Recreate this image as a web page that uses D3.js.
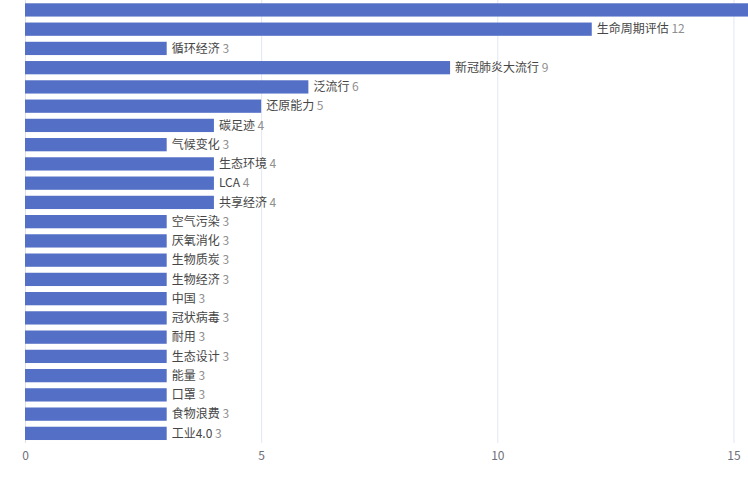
<!DOCTYPE html>
<html>
<head>
<meta charset="utf-8">
<script src="https://cdn.jsdelivr.net/npm/d3@7"></script>
<style>
  body { margin: 0; background: #fff; }
  svg { display: block; }
</style>
</head>
<body>
<div id="chart"></div>
<script>
// categories top to bottom, first one runs past the right edge
const categories = ["可持续发展", "生命周期评估", "循环经济", "新冠肺炎大流行", "泛流行", "还原能力", "碳足迹",
  "气候变化", "生态环境", "LCA", "共享经济", "空气污染", "厌氧消化", "生物质炭", "生物经济",
  "中国", "冠状病毒", "耐用", "生态设计", "能量", "口罩", "食物浪费", "工业4.0"];
const values = [20, 12, 3, 9, 6, 5, 4, 3, 4, 4, 4, 3, 3, 3, 3, 3, 3, 3, 3, 3, 3, 3, 3];
const xTicks = [0, 5, 10, 15];

const width = 748, height = 477;
const left = 25, unit = 47.23;

const svg = d3.select("#chart").append("svg")
  .attr("width", width)
  .attr("height", height);

const x = d3.scaleLinear().domain([0, 20]).range([left, left + 20 * unit]);
const y = d3.scaleBand().domain(categories).range([0.3, 443]).paddingInner(0.31).paddingOuter(0.155);

// grid lines
svg.append("g")
  .selectAll("line")
  .data(xTicks.filter(t => t > 0))
  .join("line")
  .attr("x1", d => x(d) + 0.5).attr("x2", d => x(d) + 0.5)
  .attr("y1", 0).attr("y2", 443)
  .style("stroke", "#e0e6f1")
  .style("stroke-width", 1);

// category axis line
svg.append("line")
  .attr("x1", left + 0.5).attr("x2", left + 0.5)
  .attr("y1", 0).attr("y2", 443)
  .style("stroke", "#dcdfe6")
  .style("stroke-width", 1);

// bars
svg.append("g")
  .selectAll("rect")
  .data(categories)
  .join("rect")
  .attr("x", x(0))
  .attr("y", d => y(d))
  .attr("width", (d, i) => x(values[i]) - x(0))
  .attr("height", y.bandwidth())
  .style("fill", "#5470c6");

// bar labels (only the ones that land inside the view)
const shown = categories.filter((d, i) => x(values[i]) + 5 < width);
let labels = svg.append("g")
  .selectAll("text")
  .data(shown)
  .join("text")
  .attr("x", d => x(values[categories.indexOf(d)]) + 5)
  .attr("y", d => y(d) + y.bandwidth() / 2)
  .attr("dy", "0.35em")
  .style("font-family", "'Noto Sans CJK SC', 'Noto Sans', sans-serif")
  .style("font-size", "12px");
labels.append("tspan").text(d => d).style("fill", "#464646");
labels.append("tspan").text(d => " " + values[categories.indexOf(d)]).style("fill", "#8f8f8f");

// x axis
const xAxis = svg.append("g")
  .attr("transform", "translate(0,443)")
  .call(d3.axisBottom(x).tickValues(xTicks).tickSize(0).tickPadding(8));
xAxis.select(".domain").remove();
xAxis.selectAll("text")
  .style("font-family", "'Noto Sans CJK SC', 'Noto Sans', sans-serif")
  .style("font-size", "12px")
  .style("fill", "#6e7079");
</script>
</body>
</html>
